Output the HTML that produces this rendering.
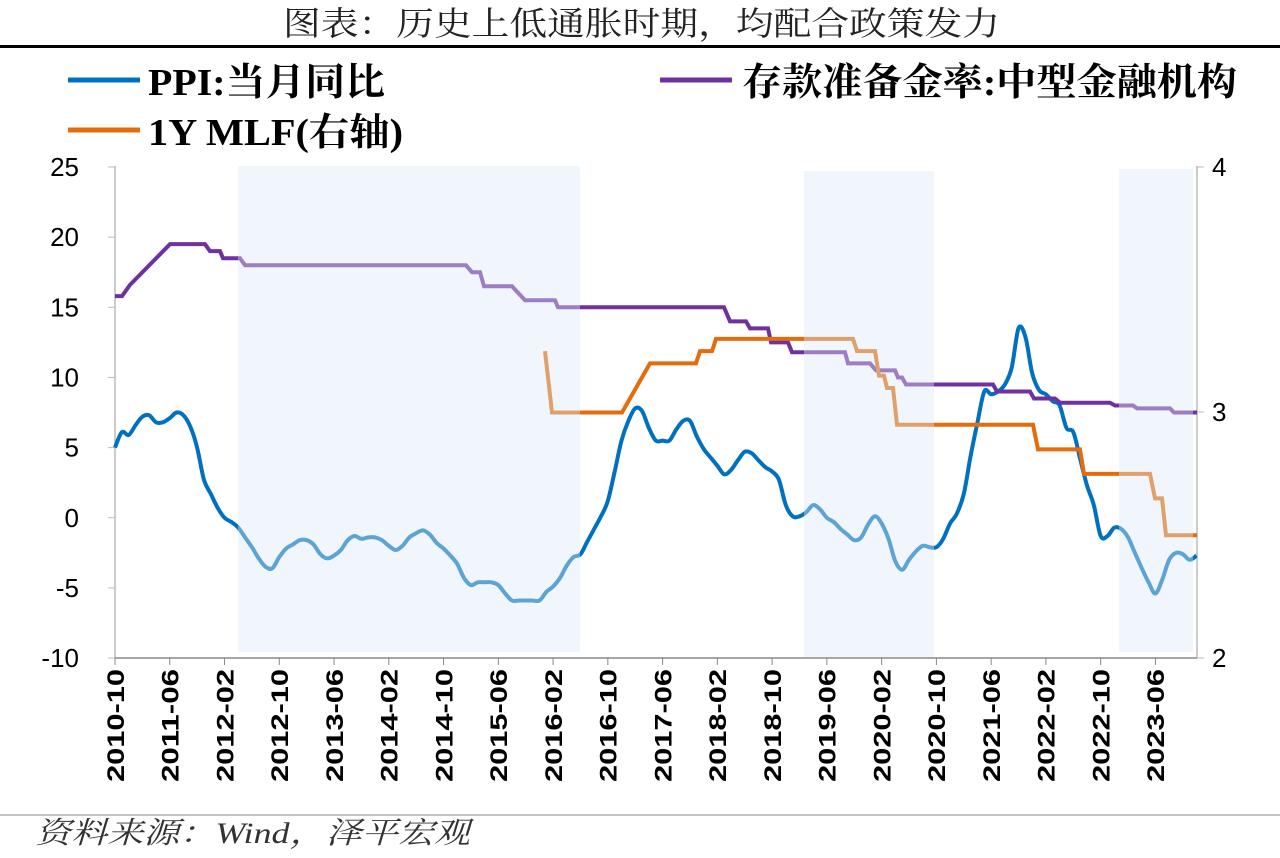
<!DOCTYPE html>
<html><head><meta charset="utf-8">
<style>
body{margin:0;background:#fff;width:1280px;height:858px;overflow:hidden}
svg{display:block}
</style></head><body>
<svg id="s" width="1280" height="858" xmlns="http://www.w3.org/2000/svg" font-family="'Liberation Sans','Noto Sans CJK SC',sans-serif">
<text x="283" y="35" textLength="717" lengthAdjust="spacingAndGlyphs" font-size="33" font-family="'Liberation Serif','Noto Serif CJK SC',serif" fill="#222">图表：历史上低通胀时期，均配合政策发力</text>
<rect x="0" y="45" width="1280" height="3" fill="#000"/>
<line x1="68" y1="80" x2="140" y2="80" stroke="#0070c0" stroke-width="5"/>
<text x="148" y="95" textLength="237" lengthAdjust="spacingAndGlyphs" font-size="38" font-weight="bold" font-family="'Liberation Serif','Noto Serif CJK SC',serif">PPI:当月同比</text>
<line x1="660" y1="80" x2="732" y2="80" stroke="#7030a0" stroke-width="5"/>
<text x="742" y="95" textLength="495" lengthAdjust="spacingAndGlyphs" font-size="38" font-weight="bold" font-family="'Liberation Serif','Noto Serif CJK SC',serif">存款准备金率:中型金融机构</text>
<line x1="68" y1="130" x2="140" y2="130" stroke="#e46c0a" stroke-width="5"/>
<text x="148" y="145" textLength="255" lengthAdjust="spacingAndGlyphs" font-size="38" font-weight="bold" font-family="'Liberation Serif','Noto Serif CJK SC',serif">1Y MLF(右轴)</text>
<g id="g"></g>
<line x1="0" y1="815" x2="1280" y2="815" stroke="#888" stroke-width="1"/>
<text x="35" y="843" textLength="435" lengthAdjust="spacingAndGlyphs" font-size="30" font-style="italic" font-family="'Liberation Serif','Noto Serif CJK SC',serif" fill="#333">资料来源：Wind，泽平宏观</text>
</svg>
<script>
const g=document.getElementById('g');let h='';
const X=m=>115+m*6.845, YL=v=>167+(25-v)*14.03, YR=v=>658-(v-2)*245.5;
const ppi=[5.0,6.1,5.9,6.6,7.2,7.3,6.8,6.8,7.1,7.5,7.3,6.5,5.0,2.7,1.7,0.7,0.0,-0.3,-0.7,-1.4,-2.1,-2.9,-3.5,-3.6,-2.8,-2.2,-1.9,-1.6,-1.6,-1.9,-2.6,-2.9,-2.7,-2.3,-1.6,-1.3,-1.5,-1.4,-1.4,-1.6,-2.0,-2.3,-2.0,-1.4,-1.1,-0.9,-1.2,-1.8,-2.2,-2.7,-3.3,-4.3,-4.8,-4.6,-4.6,-4.6,-4.8,-5.4,-5.9,-5.9,-5.9,-5.9,-5.9,-5.3,-4.9,-4.3,-3.4,-2.8,-2.6,-1.7,-0.8,0.1,1.2,3.3,5.5,6.9,7.8,7.6,6.4,5.5,5.5,5.5,6.3,6.9,6.9,5.8,4.9,4.3,3.7,3.1,3.4,4.1,4.7,4.6,4.1,3.6,3.3,2.7,0.9,0.1,0.1,0.4,0.9,0.6,0.0,-0.3,-0.8,-1.2,-1.6,-1.4,-0.5,0.1,-0.4,-1.5,-3.1,-3.7,-3.0,-2.4,-2.0,-2.1,-2.1,-1.5,-0.4,0.3,1.7,4.4,6.8,9.0,8.8,9.0,9.5,10.7,13.5,12.9,10.3,9.1,8.8,8.3,8.0,6.4,6.1,4.2,2.3,0.9,-1.3,-1.3,-0.7,-0.8,-1.4,-2.5,-3.6,-4.6,-5.4,-4.4,-3.0,-2.5,-2.6,-3.0,-2.7];
function smooth(pts){let d='M'+pts[0][0]+','+pts[0][1];for(let i=0;i<pts.length-1;i++){const p0=pts[Math.max(0,i-1)],p1=pts[i],p2=pts[i+1],p3=pts[Math.min(pts.length-1,i+2)];const c1x=p1[0]+(p2[0]-p0[0])/6,c1y=p1[1]+(p2[1]-p0[1])/6,c2x=p2[0]-(p3[0]-p1[0])/6,c2y=p2[1]-(p3[1]-p1[1])/6;d+=`C${c1x.toFixed(1)},${c1y.toFixed(1)} ${c2x.toFixed(1)},${c2y.toFixed(1)} ${p2[0].toFixed(1)},${p2[1].toFixed(1)}`;}return d;}
function steps(arr,Y){let d='';arr.forEach((p,i)=>{d+=(i?'L':'M')+p[0]+','+Y(p[1]);});return d;}
const rrr=[[115,15.8],[122,15.8],[130,16.6],[170,19.5],[205,19.5],[210,19],[220,19],[223,18.5],[240,18.5],[245,18],[466,18],[472,17.5],[480,17.5],[484,16.5],[512,16.5],[525,15.5],[555,15.5],[558,15],[724,15],[730,14],[746,14],[750,13.5],[768,13.5],[771,12.5],[788,12.5],[792,11.8],[845,11.8],[848,11],[870,11],[876,10.5],[895,10.5],[898,10],[902,10],[906,9.5],[993,9.5],[997,9],[1030,9],[1034,8.5],[1055,8.5],[1060,8.2],[1110,8.2],[1115,8],[1133,8],[1137,7.8],[1170,7.8],[1174,7.5],[1197,7.5]];
const mlf=[[545,3.25],[552,3.0],[622,3.0],[650,3.2],[696,3.2],[700,3.25],[712,3.25],[716,3.3],[853,3.3],[857,3.25],[875,3.25],[879,3.15],[884,3.15],[887,3.1],[893,3.1],[897,2.95],[1033,2.95],[1038,2.85],[1080,2.85],[1084,2.75],[1150,2.75],[1155,2.65],[1162,2.65],[1166,2.5],[1197,2.5]];
h+=`<line x1="115" y1="166" x2="115" y2="658" stroke="#bbb" stroke-width="1.5"/><line x1="1197" y1="166" x2="1197" y2="658" stroke="#bbb" stroke-width="1.5"/>`;
for(let v=-10;v<=25;v+=5){const y=YL(v);h+=`<line x1="108" y1="${y}" x2="115" y2="${y}" stroke="#bbb"/><text x="79" y="${y+9}" text-anchor="end" font-size="26">${v}</text>`;}
[[4,167],[3,412],[2,658]].forEach(a=>{h+=`<line x1="1197" y1="${a[1]}" x2="1204" y2="${a[1]}" stroke="#bbb"/><text x="1212" y="${a[1]+9}" font-size="26">${a[0]}</text>`;});
h+=`<line x1="115" y1="658" x2="1197" y2="658" stroke="#888" stroke-width="1.5"/>`;
for(let k=0;k<=19;k++){const x=X(k*8);if(x>1198)break;h+=`<line x1="${x}" y1="658" x2="${x}" y2="665" stroke="#888"/>`;}
const labs=['2010-10','2011-06','2012-02','2012-10','2013-06','2014-02','2014-10','2015-06','2016-02','2016-10','2017-06','2018-02','2018-10','2019-06','2020-02','2020-10','2021-06','2022-02','2022-10','2023-06'];
const n=labs.length;
labs.forEach((l,i)=>{const x=115+i*(1155-115)/(n-1);h+=`<text transform="translate(${x+9},782) rotate(-90)" font-size="24" font-weight="bold" textLength="113" lengthAdjust="spacingAndGlyphs">${l}</text>`;});
h+=`<path d="${smooth(ppi.map((v,i)=>[X(i),YL(v)]))}" fill="none" stroke="#0070c0" stroke-width="4"/>`;
h+=`<path d="${steps(rrr,YL)}" fill="none" stroke="#7030a0" stroke-width="4"/>`;
h+=`<path d="${steps(mlf,YR)}" fill="none" stroke="#e46c0a" stroke-width="4"/>`;
[[238,166,342,486],[804,171,130,486],[1119,169,74,483]].forEach(r=>{h+=`<rect x="${r[0]}" y="${r[1]}" width="${r[2]}" height="${r[3]}" fill="#dce9f5" fill-opacity="0.42"/>`;});
g.innerHTML=h;
</script>
</body></html>
